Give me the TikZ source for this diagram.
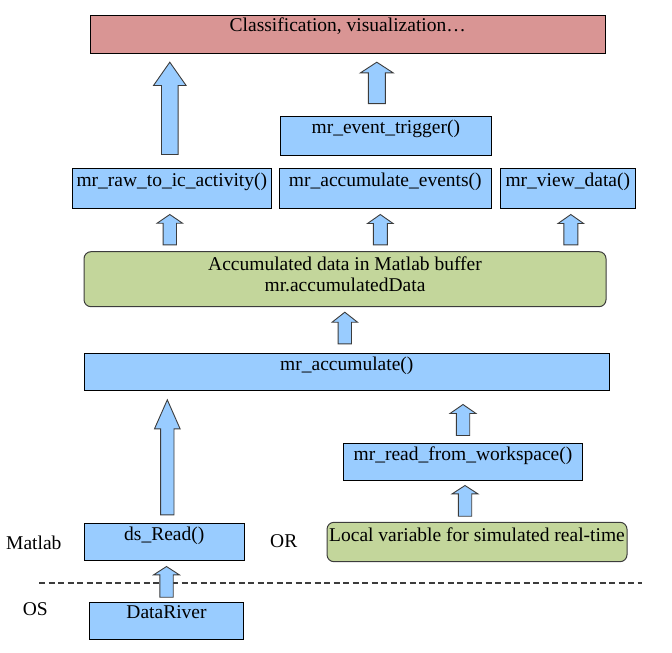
\documentclass[tikz,border=0pt]{standalone}
\usepackage{fontspec}
\setmainfont{Liberation Serif}
\usepackage{tikz}
\usetikzlibrary{calc}

\definecolor{boxblue}{HTML}{99CCFF}
\definecolor{boxpink}{HTML}{D99594}
\definecolor{boxgreen}{HTML}{C3D69B}
\definecolor{edgegray}{HTML}{3C3C3C}

\tikzset{
  box/.style={draw=black, fill=boxblue, line width=1pt, inner xsep=0pt, inner ysep=0pt, font=\fontsize{19.5}{21}\selectfont},
  greenbox/.style={box, draw=edgegray, fill=boxgreen, rounded corners=7pt},
  plain/.style={inner sep=0pt, anchor=base west, font=\fontsize{19.5}{21}\selectfont},
  sepline/.style={draw=edgegray, line width=1.6pt, dash pattern=on 6pt off 3.5pt},
  fatarrow/.style n args={3}{draw=edgegray, fill=boxblue, line width=0.9pt,
    to path={let \p1=(\tikztostart), \p2=(\tikztotarget) in
      (\x1-#1pt,\y1) -- (\x1-#1pt,\y2-#3pt) -- (\x1-#2pt,\y2-#3pt) -- (\x1,\y2)
      -- (\x1+#2pt,\y2-#3pt) -- (\x1+#1pt,\y2-#3pt) -- (\x1+#1pt,\y1) -- cycle}},
}

\begin{document}
\begin{tikzpicture}[x=1pt, y=-1pt]
\useasboundingbox (0,0) rectangle (672,653);

% boxes
\node[box, fill=boxpink, minimum width=515pt, text height=16.4pt, text depth=21.6pt] (classif) at (347.8,34.3) {Classification, visualization…};
\node[box, minimum width=211pt, text height=16.5pt, text depth=22.3pt] (trigger) at (385.8,135.9) {mr\_event\_trigger()};
\node[box, minimum width=199pt, text height=17.7pt, text depth=22.3pt] (raw) at (171.8,188.3) {mr\_raw\_to\_ic\_activity()};
\node[box, minimum width=212pt, text height=17.7pt, text depth=22.3pt] (events) at (385.3,188.3) {mr\_accumulate\_events()};
\node[box, minimum width=135pt, text height=17.7pt, text depth=22.3pt] (view) at (567.8,188.3) {mr\_view\_data()};
\node[greenbox, minimum width=522pt, text height=40pt, text depth=15pt, align=center] (buffer) at (345,279.2) {Accumulated data in Matlab buffer\\mr.accumulatedData};
\node[box, minimum width=525pt, text height=17pt, text depth=19.6pt] (accum) at (346.8,372) {mr\_accumulate()};
\node[box, minimum width=239.4pt, text height=16.7pt, text depth=20.3pt] (workspace) at (463,461.8) {mr\_read\_from\_workspace()};
\node[box, minimum width=160pt, text height=16.3pt, text depth=20pt] (dsread) at (164.3,541.85) {ds\_Read()};
\node[greenbox, minimum width=300pt, text height=18.7pt, text depth=20.7pt] (local) at (477,542) {Local variable for simulated real-time};
\node[box, minimum width=154.4pt, text height=16.4pt, text depth=20.6pt] (datariver) at (166.5,620.8) {DataRiver};

% side labels
\node[plain] (matlab) at (6,549) {Matlab};
\node[plain] (or) at (270,547.3) {OR};
\node[plain] (os) at (22.7,615.7) {OS};

% OS / Matlab border
\coordinate (sepl) at (39,583);
\coordinate (sepr) at (642,583);
\draw[sepline] (sepl) -- (sepr);

% arrows
\draw[fatarrow={8.3}{16.3}{23.3}] ($(raw.north)+(-2,-13.3)$) to ($(raw.north |- classif.south)+(-2,8.4)$);
\draw[fatarrow={8.5}{16.3}{10.6}] ($(trigger.north)+(-9,-12.4)$) to ($(trigger.north |- classif.south)+(-9,8.4)$);
\draw[fatarrow={6.7}{12.7}{8.7}] ($(buffer.north -| raw.south)+(-2,-6.4)$) to ($(raw.south)+(-2,5.7)$);
\draw[fatarrow={7}{12.8}{9}] ($(buffer.north -| events.south)+(-5,-6.4)$) to ($(events.south)+(-5,5.7)$);
\draw[fatarrow={7}{12.8}{9}] ($(buffer.north -| view.south)+(3,-6.4)$) to ($(view.south)+(3,5.7)$);
\draw[fatarrow={6.7}{12.7}{10}] ($(accum.north)+(-2,-9.4)$) to ($(buffer.south -| accum.north)+(-2,5)$);
\draw[fatarrow={6.7}{12.8}{29}] ($(dsread.north)+(3,-8.4)$) to ($(accum.south -| dsread.north)+(3,9)$);
\draw[fatarrow={6.7}{13}{9}] ($(workspace.north)+(0,-7.3)$) to ($(accum.south -| workspace.north)+(0,13.7)$);
\draw[fatarrow={6.7}{12.8}{8.3}] ($(local.north -| workspace.south)+(2,-5.6)$) to ($(workspace.south)+(2,4.7)$);
\draw[fatarrow={6.7}{12.8}{8.3}] ($(datariver.north)+(0,-4.6)$) to ($(dsread.south -| datariver.north)+(0,6)$);
\end{tikzpicture}
\end{document}
